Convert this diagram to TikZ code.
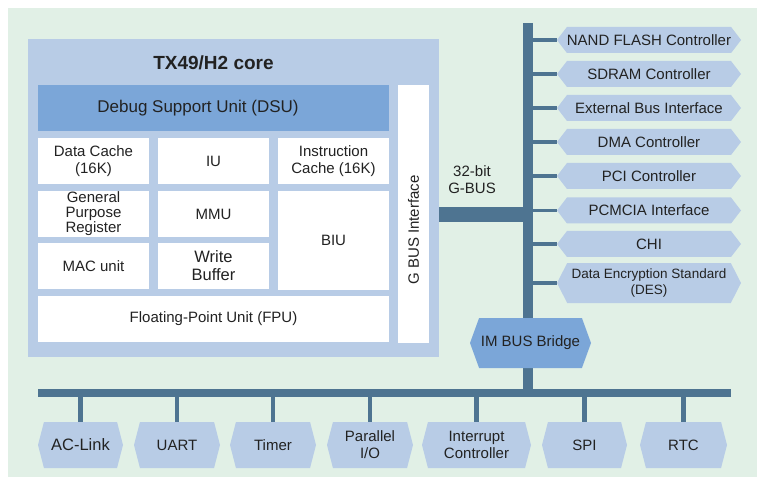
\documentclass[tikz,border=0pt]{standalone}
\usepackage{fontspec}
\setmainfont{Liberation Sans}
\usetikzlibrary{shapes.symbols}
\definecolor{bgreen}{HTML}{E1F0E6}
\definecolor{corefill}{HTML}{B8CCE6}
\definecolor{deepfill}{HTML}{7BA6D8}
\definecolor{busblue}{HTML}{4E7491}
\definecolor{ink}{HTML}{222222}
\newcommand\fsz[2]{\fontsize{#1}{#2}\selectfont}
\tikzset{unit/.style={fill=white,minimum width=111pt,minimum height=46pt,inner sep=0pt,align=center,text=ink,font=\fsz{15}{17}},
hexr/.style={shape=signal,signal to=west and east,signal pointer angle=105,fill=corefill,minimum width=184pt,minimum height=26pt,inner sep=0pt,align=center,text=ink,font=\fsz{15}{16}},
hexb/.style={shape=signal,signal to=west and east,signal pointer angle=151,fill=corefill,minimum width=86pt,minimum height=46pt,inner sep=0pt,align=center,text=ink,font=\fsz{15}{17}},
gbus/.style={busblue,line width=10pt},stub/.style={busblue,line width=3.5pt},istub/.style={busblue,line width=4.5pt}}

\begin{document}
\begin{tikzpicture}[x=1pt,y=-1pt]
\useasboundingbox (0,0) rectangle (757,478);
\fill[bgreen] (8,8) rectangle (757,477);
% TX49/H2 core
\node[fill=corefill,minimum width=411pt,minimum height=318pt,inner sep=0pt] (core) at (233.5,198) {};
\node[text=ink,font=\fsz{19}{21}\bfseries] (title) at (213.5,63) {TX49/H2 core};
\node[unit,fill=deepfill,minimum width=351pt] (dsu) at (213.5,108) {};
\node[text=ink,font=\fsz{17}{19}] (dsutext) at (198,108) {Debug Support Unit (DSU)};
\node[unit] (dcache) at (93.5,161) {Data Cache\\(16K)};
\node[unit] (iu) at (213.5,161) {IU};
\node[unit] (icache) at (333.5,161) {Instruction\\Cache (16K)};
\node[unit,font=\fsz{15}{15}] (gpr) at (93.5,214) {General\\Purpose\\Register};
\node[unit] (mmu) at (213.5,214) {MMU};
\node[unit] (mac) at (93.5,266) {MAC unit};
\node[unit,font=\fsz{16.5}{18}] (wbuf) at (213.5,266) {Write\\Buffer};
\node[unit,minimum height=99pt] (biu) at (333.5,240.5) {BIU};
\node[unit,minimum width=351pt] (fpu) at (213.5,319) {Floating-Point Unit (FPU)};
\node[unit,minimum width=31pt,minimum height=258pt] (gbif) at (413.5,214) {};
\node[text=ink,font=\fsz{15}{17},rotate=90] (gbiftext) at (413.5,230) {G BUS Interface};
% G-BUS
\coordinate (gtop) at (528,23);
\coordinate (glink) at (528,214.5);
\node[text=ink,font=\fsz{15}{17},align=center] (gbuslabel) at (472,180) {32-bit\\G-BUS};
\node[hexr] (nand) at (649,40) {NAND FLASH Controller};
\node[hexr] (sdram) at (649,74) {SDRAM Controller};
\node[hexr] (ebi) at (649,108) {External Bus Interface};
\node[hexr] (dma) at (649,142) {DMA Controller};
\node[hexr] (pci) at (649,176) {PCI Controller};
\node[hexr] (pcmcia) at (649,210.5) {PCMCIA Interface};
\node[hexr] (chi) at (649,244) {CHI};
\node[hexr,minimum height=40pt,signal pointer angle=126,font=\fsz{13.5}{16}] (des) at (649,283) {Data Encryption Standard\\(DES)};
\draw[line width=15pt,busblue] (core.east |- glink) -- (glink);
\coordinate (ibl) at (38,393);
\coordinate (ibr) at (731,393);
\draw[gbus] (gtop) -- (gtop |- ibl);
\draw[busblue,line width=8pt] (ibl) -- (ibr);
\foreach \p in {nand,sdram,ebi,dma,pci,pcmcia,chi,des} \draw[stub] (\p.west -| gtop) -- (\p.west);
\node[hexb,fill=deepfill,minimum width=121pt,minimum height=50pt,signal pointer angle=140] (bridge) at (530.5,343) {IM BUS Bridge};
% IM-BUS
\node[hexb,minimum width=85pt,font=\fsz{16.5}{18}] (aclink) at (80.5,445) {AC-Link};
\node[hexb] (uart) at (177,445) {UART};
\node[hexb] (timer) at (273,445) {Timer};
\node[hexb] (pio) at (370,445) {Parallel\\I/O};
\node[hexb,minimum width=109pt] (intc) at (476.5,445) {Interrupt\\Controller};
\node[hexb,minimum width=85pt] (spi) at (584.5,445) {SPI};
\node[hexb,minimum width=87pt] (rtc) at (683.5,445) {RTC};
\foreach \p in {aclink,uart,timer,pio,intc,spi,rtc} \draw[istub] (\p.north |- ibl) -- (\p.north);
\end{tikzpicture}
\end{document}
